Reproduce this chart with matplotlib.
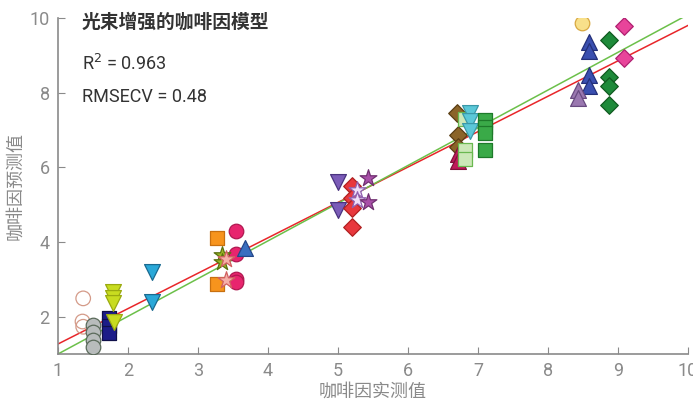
import matplotlib.pyplot as plt
import numpy as np

plt.rcParams['font.family'] = ['Roboto', 'Noto Sans CJK SC', 'DejaVu Sans']

# measured / predicted caffeine, one entry per sample group
groups = [
    # (x values, y values, marker, face, edge)
    ([1.36, 1.35, 1.36], [2.49, 1.87, 1.73], "o", "none", "#d49a88"),
    ([1.50, 1.50, 1.50, 1.50], [1.78, 1.58, 1.37, 1.18], "o", "#b8bcbc", "#5a6a5a"),
    ([1.73, 1.73, 1.73], [1.97, 1.75, 1.55], "s", "#1c1c88", "#10104a"),
    ([1.78, 1.78, 1.78, 1.80], [2.67, 2.51, 2.37, 1.87], "v", "#c8dc20", "#9aaa10"),
    ([2.34, 2.34], [3.20, 2.39], "v", "#2aa8d8", "#1a6a90"),
    ([3.27, 3.27], [4.10, 2.88], "s", "#f7941d", "#c87010"),
    ([3.55, 3.55, 3.55, 3.55], [4.30, 3.67, 3.00, 2.94], "o", "#e8256e", "#b01850"),
    ([3.67], [3.83], "^", "#3a6fc0", "#24488a"),
    ([3.34, 3.34], [3.65, 3.47], "*", "#9ab526", "#5a7010"),
    ([3.40, 3.40], [3.55, 2.98], "*", "#f5b0a8", "#d06060"),
    ([5.00, 5.00], [5.62, 4.86], "v", "#7b5cb8", "#4a3480"),
    ([5.20, 5.20, 5.20, 5.20], [5.49, 5.17, 4.91, 4.41], "D", "#e8383d", "#b02020"),
    ([5.27, 5.27], [5.40, 5.13], "*", "#f0e0f8", "#9060b0"),
    ([5.43, 5.43], [5.71, 5.08], "*", "#a84fa8", "#703070"),
    ([6.70, 6.72, 6.72], [7.45, 6.87, 6.55], "D", "#8b6428", "#5a3e14"),
    ([6.72, 6.72], [6.35, 6.18], "^", "#c0185a", "#80103a"),
    ([6.81, 6.81, 6.81], [7.29, 6.47, 6.22], "s", "#cce8b8", "#6ab850"),
    ([6.88, 6.88, 6.88], [7.45, 7.23, 6.97], "v", "#5bc8d8", "#3a98a8"),
    ([7.10, 7.10, 7.10, 7.10], [7.27, 7.09, 6.91, 6.47], "s", "#3aaa48", "#1e7a2a"),
    ([8.49], [9.86], "o", "#f8e08a", "#d8a840"),
    ([8.59, 8.59, 8.59, 8.59], [9.37, 9.11, 8.48, 8.17], "^", "#3a4fb0", "#24307a"),
    ([8.43, 8.43], [8.08, 7.85], "^", "#9a78b0", "#684a80"),
    ([8.87, 8.87, 8.87, 8.87], [9.42, 8.43, 8.17, 7.68], "D", "#1e8a3a", "#105a20"),
    ([9.08, 9.08], [9.78, 8.93], "D", "#e8449a", "#b02070"),
]

# regression fit and ideal line
fit_slope, fit_icpt = 0.948, 0.32
ideal_slope, ideal_icpt = 1.01, -0.01

sizes = {"o": 110, "s": 90, "v": 130, "^": 130, "D": 80, "*": 160}

fig = plt.figure(figsize=(6.93, 4.0), dpi=100)
ax = fig.add_axes([0.0837, 0.115, 0.909, 0.84])

for xs, ys, m, fc, ec in groups:
    ax.scatter(xs, ys, marker=m, s=sizes[m], facecolors=fc, edgecolors=ec,
               linewidths=0.9, zorder=3)

lx = np.array([1, 10])
ax.plot(lx, fit_slope * lx + fit_icpt, color="#e8262a", lw=1.1, zorder=2)
ax.plot(lx, ideal_slope * lx + ideal_icpt, color="#6cc04a", lw=1.1, zorder=2)

ax.set_xlim(1, 10)
ax.set_ylim(1, 10)
ax.set_xticks(range(1, 11))
ax.set_yticks([2, 4, 6, 8, 10])
for s in ("top", "right"):
    ax.spines[s].set_visible(False)
for s in ("left", "bottom"):
    ax.spines[s].set_color("#8a8a8a")
    ax.spines[s].set_linewidth(1.2)
ax.tick_params(direction="in", length=5, colors="#8a8a8a", labelsize=13, pad=6)
ax.set_xlabel("咖啡因实测值", color="#8a8a8a", fontsize=13, labelpad=2)
ax.set_ylabel("咖啡因预测值", color="#8a8a8a", fontsize=13, labelpad=4)

ax.text(0.038, 0.988, "光束增强的咖啡因模型", transform=ax.transAxes, fontsize=13.5,
        fontweight="bold", color="#333333", va="center")
ax.text(0.038, 0.863, "R$^2$ = 0.963", transform=ax.transAxes, fontsize=13,
        color="#333333", va="center")
ax.text(0.038, 0.765, "RMSECV = 0.48", transform=ax.transAxes, fontsize=13,
        color="#333333", va="center")

fig.savefig("out.png", dpi=100)
